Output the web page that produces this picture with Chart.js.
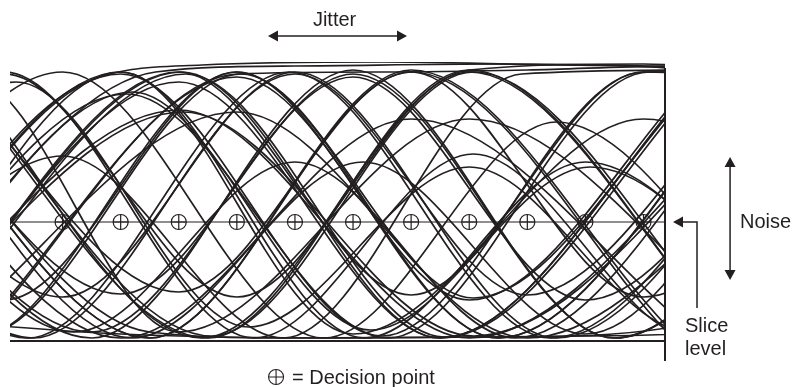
<!DOCTYPE html>
<html>
<head>
<meta charset="utf-8">
<script src="https://cdn.jsdelivr.net/npm/chart.js@4.4.1/dist/chart.umd.min.js"></script>
<style>
  html, body { margin: 0; padding: 0; background: #fff; }
  #eye { display: block; }
</style>
</head>
<body>
<canvas id="eye" width="793" height="387"></canvas>
<script>
// x = time in unit intervals (decision point k sits at x = k), y = signal level (slice = 0)
const decisionPoints = [0, 1, 2, 3, 4, 5, 6, 7, 8, 9, 10];
const sliceLevel = 0;
const floorLevel = -119;
const windowStart = -0.905;
const windowEnd = 10.37;

// traces: turning points, the curve between them is Chart.js' monotone spline
const topTraces = [
  [[-3.5,-116],[0.3,137],[2.4,157],[5.5,160],[8.5,157],[10.8,152],[13,100]],
  [[-3.2,-110],[1.6,150],[4,156],[7.5,158],[10.8,154],[13,120]],
  [[-1.5,-116],[3,148],[5.5,150],[8,152],[10.6,156],[12,150]],
  [[-1.8,150],[2.4,-116],[7,152],[10,158],[12,150]]
];
const fullTraces = [
  [[-2.5,-116],[2.05,150],[6.5,-116],[11.05,150]],
  [[-2.43,-114],[2.12,148],[6.57,-115],[11.12,148]],
  [[-1.5,-112],[3,145],[7.5,-116],[12,148]],
  [[-3,150],[1.5,-116],[6,152],[10.5,-110]],
  [[-2,150],[2.5,-116],[7,152],[11.5,-116]],
  [[-1.93,148],[2.57,-114],[7.07,150],[11.57,-114]],
  [[-3.5,-116],[1,148],[5.5,-114],[10,150],[14,140]],
  [[-2.5,-108],[2,140],[6.5,-116],[11,145]],
  [[-5,150],[-0.6,-116],[3.9,150],[8.4,-116],[12.9,150]],
  [[-4,150],[0.5,-116],[5,152],[9.5,-116],[14,150]]
];
const upperEyeTraces = [
  [[-3.8,-116],[0,66],[3.8,-116],[7.9,148],[11,152]],
  [[-4,140],[0.2,-110],[4,60],[7.8,-116],[12,130]],
  [[-3,150],[1.2,-116],[5.17,60],[9,-112],[13,150]],
  [[-5,-116],[-1,150],[3.3,-116],[7.07,68],[10.9,-116],[14,100]],
  [[-4.5,-100],[-0.8,140],[3.2,-105],[7,55],[10.8,-110],[14,120]],
  [[-3,-116],[1,150],[5.2,-116],[9,60],[12.8,-116]],
  [[-3,-110],[1.2,130],[5.3,-108],[9.08,55],[12.8,-110]]
];
const midTraces = [
  [[-3,-116],[2,112],[7,-116],[12.5,150]],
  [[-2.92,-114],[2.08,110],[7.08,-114],[12.58,148]],
  [[-2,-112],[3,110],[8,-116],[13,100]],
  [[-3.5,140],[1,-116],[6,103],[11,-116]],
  [[-5.5,-100],[-1.6,145],[2,-110],[7,103],[12,-116]],
  [[-4.5,-116],[0,150],[4.5,-116],[8.5,100],[12.5,-116]],
  [[-3.5,-116],[1,150],[5,-112],[10,103],[15,-110]],
  [[-3.4,-116],[1.1,128],[5.6,-116],[10.1,150],[14,140]]
];
const lowerEyeTraces = [
  [[-4,150],[0,-75],[4,150],[8.5,-116],[13,150]],
  [[-3,145],[1,-72],[5,148],[9.5,-116],[14,150]],
  [[-2,150],[2,-70],[6,150],[10.5,-116]],
  [[-5,-116],[-1,148],[3,-75],[7,150],[11.5,-116]],
  [[-2.5,-116],[2,150],[6,-73],[10,150],[13,140]],
  [[-6,150],[-1.5,-116],[3,150],[7,-78],[11,150]],
  [[-5.93,148],[-1.43,-114],[3.07,148],[7.07,-76],[11.07,148]],
  [[-5,150],[-0.5,-116],[4,148],[8,-73],[12,150]],
  [[-4,140],[0.5,-110],[5,145],[9,-78],[13,150]],
  [[-3,150],[1.5,-116],[6,150],[10,-75],[14,150]],
  [[-5,150],[-1,-78],[3,150],[7.5,-116],[12,150]]
];
const bottomTraces = [
  [[-3,150],[1.5,-110],[4,-116],[7.5,-115],[10.5,-105],[14,150]],
  [[-2,-100],[1,-112],[5,-116],[9,-114],[11,-110],[15,150]]
];

const INK = '#231f20';
const FONT = "20px 'Liberation Sans', Arial, Helvetica, sans-serif";

const allTraces = [].concat(topTraces, fullTraces, upperEyeTraces, midTraces, lowerEyeTraces, bottomTraces);

const datasets = allTraces.map(function (pts) {
  return {
    data: pts,
    borderColor: INK,
    borderWidth: 1.7,
    pointRadius: 0,
    cubicInterpolationMode: 'monotone',
    fill: false,
    clip: 0
  };
});

// slice level line
datasets.push({
  data: [[windowStart + 0.06, sliceLevel], [windowEnd, sliceLevel]],
  borderColor: INK, borderWidth: 1.2, pointRadius: 0, clip: false
});
// floor line
datasets.push({
  data: [[windowStart, floorLevel], [windowEnd, floorLevel]],
  borderColor: INK, borderWidth: 2, pointRadius: 0, clip: false
});
// right frame line
datasets.push({
  data: [[windowEnd, 154], [windowEnd, -139]],
  borderColor: INK, borderWidth: 2, pointRadius: 0, clip: false
});
// decision points (circle + cross)
const dpData = decisionPoints.map(function (k) { return [k, sliceLevel]; });
datasets.push({
  data: dpData, showLine: false, pointStyle: 'circle', pointRadius: 7.5,
  pointBorderWidth: 1.2, pointBorderColor: INK, pointBackgroundColor: 'rgba(0,0,0,0)', clip: false
});
datasets.push({
  data: dpData, showLine: false, pointStyle: 'cross', pointRadius: 7.5,
  pointBorderWidth: 1.2, pointBorderColor: INK, clip: false
});

function head(ctx, x, y, ang) {
  ctx.save();
  ctx.translate(x, y);
  ctx.rotate(ang);
  ctx.beginPath();
  ctx.moveTo(0, 0);
  ctx.lineTo(-10, -5.5);
  ctx.lineTo(-10, 5.5);
  ctx.closePath();
  ctx.fill();
  ctx.restore();
}

const notes = {
  id: 'notes',
  afterDraw: function (chart) {
    const ctx = chart.ctx;
    const sx = chart.scales.x, sy = chart.scales.y;
    const X = function (v) { return sx.getPixelForValue(v); };
    const Y = function (v) { return sy.getPixelForValue(v); };
    ctx.save();
    ctx.strokeStyle = INK;
    ctx.fillStyle = INK;
    ctx.lineWidth = 1.5;
    ctx.font = FONT;

    // Jitter
    const jy = Y(186), jl = X(3.536), jr = X(5.929);
    ctx.beginPath(); ctx.moveTo(jl + 8, jy); ctx.lineTo(jr - 8, jy); ctx.stroke();
    head(ctx, jl, jy, Math.PI);
    head(ctx, jr, jy, 0);
    ctx.textAlign = 'center';
    ctx.textBaseline = 'alphabetic';
    ctx.fillText('Jitter', X(4.682), Y(196));

    // Noise
    const nx = X(11.49), nt = Y(65), nb = Y(-58);
    ctx.beginPath(); ctx.moveTo(nx, nt + 8); ctx.lineTo(nx, nb - 8); ctx.stroke();
    head(ctx, nx, nt, -Math.PI / 2);
    head(ctx, nx, nb, Math.PI / 2);
    ctx.textAlign = 'left';
    ctx.fillText('Noise', X(11.66), Y(-6));

    // Slice level pointer
    const st = X(10.508), sc = X(10.921), sv = Y(sliceLevel);
    ctx.beginPath(); ctx.moveTo(st + 8, sv); ctx.lineTo(sc, sv); ctx.lineTo(sc, Y(-86)); ctx.stroke();
    head(ctx, st, sv, Math.PI);
    ctx.fillText('Slice', X(10.714), Y(-110));
    ctx.fillText('level', X(10.714), Y(-133));

    // legend: decision point symbol
    const lx = X(3.675), ly = Y(-155);
    ctx.lineWidth = 1.1;
    ctx.beginPath(); ctx.arc(lx, ly, 7.5, 0, Math.PI * 2); ctx.stroke();
    ctx.beginPath();
    ctx.moveTo(lx - 7.5, ly); ctx.lineTo(lx + 7.5, ly);
    ctx.moveTo(lx, ly - 7.5); ctx.lineTo(lx, ly + 7.5);
    ctx.stroke();
    ctx.fillText('= Decision point', X(3.95), Y(-162));
    ctx.restore();
  }
};

new Chart(document.getElementById('eye'), {
  type: 'line',
  data: { datasets: datasets },
  options: {
    responsive: false,
    devicePixelRatio: 1,
    animation: false,
    events: [],
    layout: { padding: { left: 10, right: 128, top: 62, bottom: 26 } },
    scales: {
      x: { type: 'linear', min: windowStart, max: windowEnd, display: false },
      y: { type: 'linear', min: -139, max: 160, display: false }
    },
    plugins: { legend: { display: false }, tooltip: { enabled: false } }
  },
  plugins: [notes]
});
</script>
</body>
</html>
